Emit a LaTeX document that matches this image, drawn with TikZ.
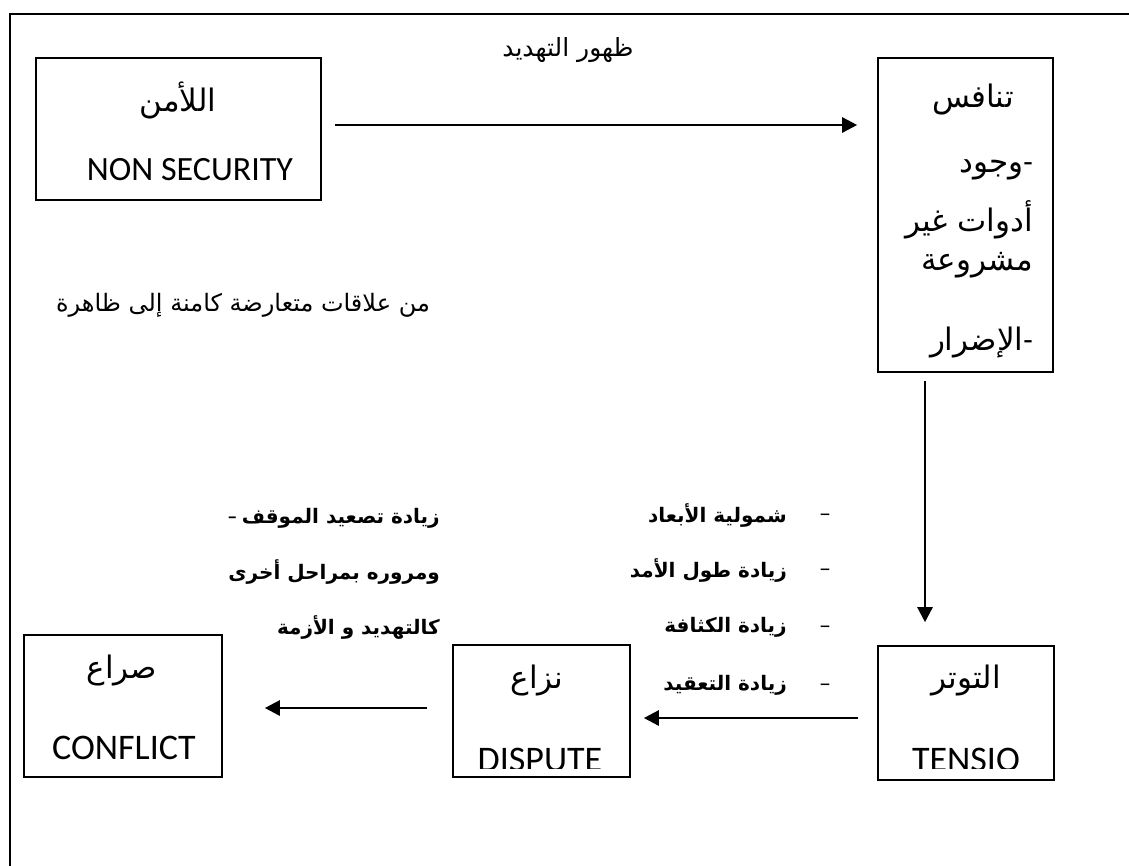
\documentclass[tikz,border=0pt]{standalone}
\usepackage{fontspec}
\setmainfont{Carlito}
\newfontfamily\arabicfont[Script=Arabic]{DejaVu Sans}
\TeXXeTstate=1
\usetikzlibrary{arrows.meta}
\newcommand{\arab}[1]{{\arabicfont\beginR #1\endR}}

\tikzset{
	kasten/.style={draw, line width=1.6pt, inner sep=0pt},
	pfeil/.style={line width=2.5pt, -{Triangle[length=15pt,width=15pt]}},
	titel/.style={font=\fontsize{31}{36}\selectfont, inner sep=0pt},
	latein/.style={font=\fontsize{36}{40}\selectfont, inner sep=0pt},
	punkt/.style={font=\fontsize{20}{24}\selectfont\bfseries, inner sep=0pt},
	notiz/.style={font=\fontsize{24}{28}\selectfont, inner sep=0pt}
}

\begin{document}
\begin{tikzpicture}[x=1pt, y=-1pt]
	\clip (0,0) rectangle (1129,865);
	% Rahmen
	\draw[line width=1.6pt] (10,14) rectangle (1160,900);
	% Kaesten
	\node[kasten, minimum width=285, minimum height=142] (unsicher) at (178.5,129) {};
	\node[kasten, minimum width=175, minimum height=314] (wettbewerb) at (965.5,215) {};
	\node[kasten, minimum width=176, minimum height=134] (spannung) at (966,713) {};
	\node[kasten, minimum width=177, minimum height=132] (streit) at (541.5,711) {};
	\node[kasten, minimum width=198, minimum height=142] (konflikt) at (123,706) {};
	% Texte in den Kaesten
	\node[titel] (unsicher-ar) at (178,100) {\arab{اللأمن}};
	\node[latein, font=\fontsize{34}{40}\selectfont] (unsicher-en) at (190,170) {NON SECURITY};
	\node[titel] (wettbewerb-ar) at (973,100) {\arab{تنافس}};
	\node[titel, anchor=east] (wettbewerb-1) at (1033,170) {\arab{وجود}-};
	\node[titel, anchor=east] (wettbewerb-2) at (1033,220) {\arab{أدوات غير}};
	\node[titel, anchor=east] (wettbewerb-3) at (1033,265) {\arab{مشروعة}};
	\node[titel, anchor=east] (wettbewerb-4) at (1033,343) {\arab{الإضرار}-};
	\node[titel] (spannung-ar) at (966,680) {\arab{التوتر}};
	\node[titel] (streit-ar) at (537,680) {\arab{نزاع}};
	\node[titel] (konflikt-ar) at (122,670) {\arab{صراع}};
	\node[latein] (konflikt-en) at (124,748) {CONFLICT};
	\begin{scope}
		\clip (453,645) rectangle (1054,768);
		\node[latein, anchor=base] (spannung-en) at (966,771) {TENSIO};
		\node[latein, anchor=base] (streit-en) at (540,771) {DISPUTE};
	\end{scope}
	% Beschriftungen
	\node[notiz, font=\fontsize{25}{30}\selectfont] (drohung) at (568,50) {\arab{ظهور التهديد}};
	\node[notiz] (latent) at (243,305) {\arab{من علاقات متعارضة كامنة إلى  ظاهرة}};
	% Merkmale der Spannung
	\node[punkt, anchor=east] (merkmal-1) at (787,515) {\arab{شمولية الأبعاد}};
	\node[punkt, anchor=east] (merkmal-2) at (787,570) {\arab{زيادة طول الأمد}};
	\node[punkt, anchor=east] (merkmal-3) at (787,627) {\arab{زيادة الكثافة}};
	\node[punkt, anchor=east] (merkmal-4) at (787,685) {\arab{زيادة التعقيد}};
	\foreach \y/\n in {518/1,573/2,630/3,688/4}
		\node[notiz] (strich-\n) at (825,\y) {\textendash};
	% Merkmale des Streits
	\node[punkt, anchor=east] (eskalation-1) at (440,518) {\textendash\ \arab{زيادة تصعيد الموقف}};
	\node[punkt, anchor=east] (eskalation-2) at (440,572) {\arab{ومروره بمراحل أخرى}};
	\node[punkt, anchor=east] (eskalation-3) at (440,627) {\arab{كالتهديد و الأزمة}};
	% Pfeile
	\draw[pfeil, shorten <=13pt, shorten >=20pt] (unsicher.east |- 0,125) -- (wettbewerb.west |- 0,125);
	\draw[pfeil, shorten <=8pt, shorten >=23pt] (925,0 |- wettbewerb.south) -- (925,0 |- spannung.north);
	\draw[pfeil, shorten <=19pt, shorten >=13pt] (spannung.west |- 0,718) -- (streit.east |- 0,718);
	\draw[pfeil, shorten <=25pt, shorten >=42pt] (streit.west |- 0,708) -- (konflikt.east |- 0,708);
\end{tikzpicture}
\end{document}
